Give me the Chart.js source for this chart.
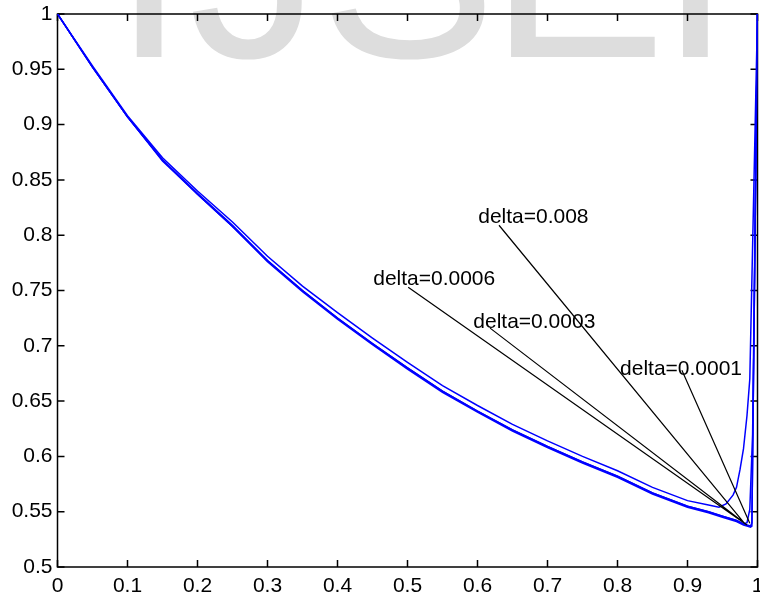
<!DOCTYPE html>
<html>
<head>
<meta charset="utf-8">
<script src="https://cdn.jsdelivr.net/npm/chart.js@4.4.0/dist/chart.umd.min.js"></script>
<style>
  html, body { margin: 0; padding: 0; background: #fff; overflow: hidden; }
  #wrap { width: 760px; height: 599px; }
</style>
</head>
<body>
<div id="wrap"><canvas id="curveChart" width="760" height="599"></canvas></div>
<script>
// lower band (three runs nearly on top of each other)
const xBand = [0, 0.05, 0.1, 0.15, 0.2, 0.25, 0.3, 0.35, 0.4, 0.45, 0.5, 0.55, 0.6, 0.65, 0.7, 0.75, 0.8, 0.85, 0.9, 0.93, 0.95, 0.97, 0.98, 0.985, 0.99, 0.992, 1];
const yDelta0006 = [1, 0.952, 0.907, 0.868, 0.837, 0.808, 0.776, 0.749, 0.724, 0.701, 0.679, 0.658, 0.640, 0.623, 0.608, 0.594, 0.581, 0.566, 0.554, 0.549, 0.545, 0.541, 0.538, 0.537, 0.536, 0.537, 1];
const yDelta0003 = [1, 0.952, 0.907, 0.868, 0.838, 0.809, 0.777, 0.750, 0.725, 0.702, 0.680, 0.659, 0.641, 0.624, 0.609, 0.595, 0.582, 0.567, 0.555, 0.550, 0.546, 0.542, 0.539, 0.538, 0.537, 0.540, 1];

const xDelta0001 = [0, 0.05, 0.1, 0.15, 0.2, 0.25, 0.3, 0.35, 0.4, 0.45, 0.5, 0.55, 0.6, 0.65, 0.7, 0.75, 0.8, 0.85, 0.9, 0.93, 0.95, 0.97, 0.98, 0.985, 0.989, 0.993, 1];
const yDelta0001 = [1, 0.952, 0.907, 0.867, 0.837, 0.808, 0.777, 0.750, 0.725, 0.702, 0.680, 0.659, 0.641, 0.624, 0.609, 0.595, 0.582, 0.567, 0.555, 0.550, 0.546, 0.542, 0.539, 0.540, 0.552, 0.620, 1];

// upper run, lifts off early
const xDelta008 = [0, 0.05, 0.1, 0.15, 0.2, 0.25, 0.3, 0.35, 0.4, 0.45, 0.5, 0.55, 0.6, 0.65, 0.7, 0.75, 0.8, 0.85, 0.9, 0.93, 0.945, 0.955, 0.965, 0.97, 0.975, 0.98, 0.985, 0.989, 1];
const yDelta008 = [1, 0.953, 0.908, 0.870, 0.840, 0.812, 0.781, 0.754, 0.730, 0.707, 0.685, 0.664, 0.646, 0.629, 0.614, 0.600, 0.587, 0.572, 0.560, 0.556, 0.554, 0.557, 0.565, 0.572, 0.588, 0.607, 0.637, 0.670, 1];

const xTicks = [0, 0.1, 0.2, 0.3, 0.4, 0.5, 0.6, 0.7, 0.8, 0.9, 1];
const yTicks = [0.5, 0.55, 0.6, 0.65, 0.7, 0.75, 0.8, 0.85, 0.9, 0.95, 1];

// annotation text and pointer lines, in data units
const noteText = ["delta=0.008", "delta=0.0006", "delta=0.0003", "delta=0.0001"];
const noteX = [0.601, 0.451, 0.594, 0.8036];
const noteY = [0.811, 0.755, 0.716, 0.6734];
const lineFromX = [0.6307, 0.501, 0.618, 0.892];
const lineFromY = [0.809, 0.753, 0.716, 0.678];
const lineToX = [0.982, 0.985, 0.985, 0.989];
const lineToY = [0.539, 0.538, 0.538, 0.5395];

const FONT = "'Liberation Sans', Arial, sans-serif";

function toPoints(xv, yv) {
    return xv.map((x, i) => ({ x: x, y: yv[i] }));
}

function series(label, xv, yv) {
    return {
        label: label,
        data: toPoints(xv, yv),
        borderColor: "#0000ff",
        borderWidth: 1.5,
        pointRadius: 0,
        tension: 0,
        fill: false
    };
}

function fmt(v) {
    return String(+Number(v).toFixed(2));
}

const watermark = {
    id: "watermark",
    beforeDraw(chart) {
        let ctx = chart.ctx;
        ctx.save();
        ctx.fillStyle = "#fff";
        ctx.fillRect(0, 0, chart.width, chart.height);
        ctx.fillStyle = "#dddddd";
        ctx.font = "265px " + FONT;
        ctx.textBaseline = "alphabetic";
        let letters = ["I", "J", "S", "E", "R"];
        let lefts = [133, 193, 328, 510, 682];
        letters.forEach((ch, i) => {
            let m = ctx.measureText(ch);
            ctx.fillText(ch, lefts[i] + m.actualBoundingBoxLeft, 57);
        });
        ctx.restore();
    }
};

const axesBox = {
    id: "axesBox",
    beforeDatasetsDraw(chart) {
        let ctx = chart.ctx;
        let a = chart.chartArea;
        let sx = chart.scales.x, sy = chart.scales.y;
        let len = 7;
        ctx.save();
        ctx.strokeStyle = "#000";
        ctx.lineWidth = 1.5;
        ctx.strokeRect(a.left, a.top, a.right - a.left, a.bottom - a.top);
        ctx.beginPath();
        xTicks.forEach(v => {
            let px = sx.getPixelForValue(v);
            ctx.moveTo(px, a.bottom); ctx.lineTo(px, a.bottom - len);
            ctx.moveTo(px, a.top); ctx.lineTo(px, a.top + len);
        });
        yTicks.forEach(v => {
            let py = sy.getPixelForValue(v);
            ctx.moveTo(a.left, py); ctx.lineTo(a.left + len, py);
            ctx.moveTo(a.right, py); ctx.lineTo(a.right - len, py);
        });
        ctx.stroke();
        ctx.restore();
    }
};

const notes = {
    id: "notes",
    afterDatasetsDraw(chart) {
        let ctx = chart.ctx;
        let sx = chart.scales.x, sy = chart.scales.y;
        ctx.save();
        ctx.fillStyle = "#000";
        ctx.font = "21px " + FONT;
        ctx.textAlign = "left";
        ctx.textBaseline = "alphabetic";
        noteText.forEach((t, i) => {
            ctx.fillText(t, sx.getPixelForValue(noteX[i]), sy.getPixelForValue(noteY[i]));
        });
        ctx.strokeStyle = "#000";
        ctx.lineWidth = 1.2;
        ctx.beginPath();
        noteText.forEach((t, i) => {
            ctx.moveTo(sx.getPixelForValue(lineFromX[i]), sy.getPixelForValue(lineFromY[i]));
            ctx.lineTo(sx.getPixelForValue(lineToX[i]), sy.getPixelForValue(lineToY[i]));
        });
        ctx.stroke();
        ctx.restore();
    }
};

new Chart(document.getElementById("curveChart"), {
    type: "line",
    data: {
        datasets: [
            series("delta=0.008", xDelta008, yDelta008),
            series("delta=0.0006", xBand, yDelta0006),
            series("delta=0.0003", xBand, yDelta0003),
            series("delta=0.0001", xDelta0001, yDelta0001)
        ]
    },
    options: {
        responsive: false,
        animation: false,
        layout: { padding: { top: 14, right: 2.5, left: 0, bottom: 0 } },
        plugins: {
            legend: { display: false },
            tooltip: { enabled: false }
        },
        scales: {
            x: {
                type: "linear",
                min: 0,
                max: 1,
                grid: { display: false, drawTicks: false },
                border: { display: false },
                afterBuildTicks: s => { s.ticks = xTicks.map(v => ({ value: v })); },
                afterFit: s => { s.height = 32; s.paddingLeft = 0; s.paddingRight = 0; },
                ticks: {
                    color: "#000",
                    font: { family: FONT, size: 21 },
                    padding: 7,
                    maxRotation: 0,
                    autoSkip: false,
                    callback: v => fmt(v)
                }
            },
            y: {
                type: "linear",
                min: 0.5,
                max: 1,
                grid: { display: false, drawTicks: false },
                border: { display: false },
                afterBuildTicks: s => { s.ticks = yTicks.map(v => ({ value: v })); },
                afterFit: s => { s.width = 57.5; s.paddingTop = 0; s.paddingBottom = 0; },
                ticks: {
                    color: "#000",
                    font: { family: FONT, size: 21 },
                    padding: 5,
                    autoSkip: false,
                    callback: v => fmt(v)
                }
            }
        }
    },
    plugins: [watermark, axesBox, notes]
});
</script>
</body>
</html>
